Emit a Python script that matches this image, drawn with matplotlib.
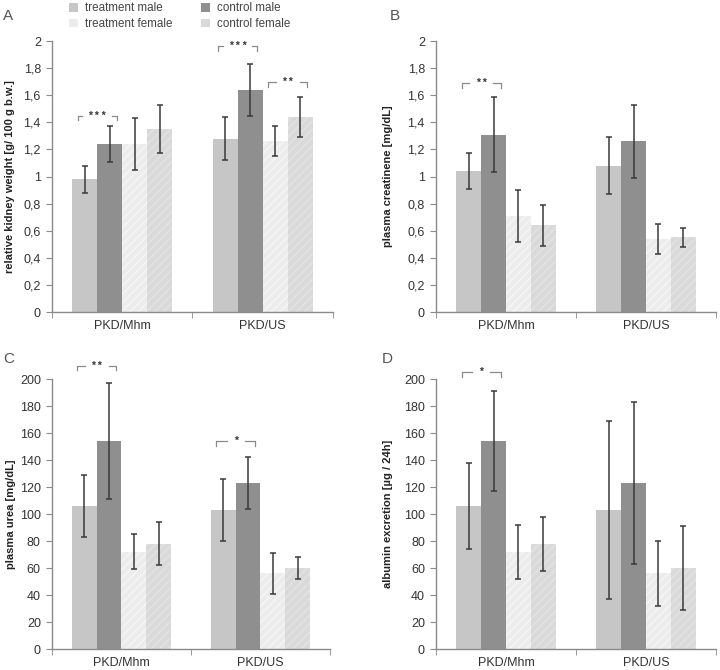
import matplotlib
matplotlib.use("Agg")
import matplotlib.pyplot as plt
from matplotlib.patches import Patch
import numpy as np

plt.rcParams['font.family'] = ['Liberation Sans', 'DejaVu Sans']
plt.rcParams['hatch.linewidth'] = 1.0

# ---------------- data ----------------
categories = ["PKD/Mhm", "PKD/US"]
groups = ["treatment male", "control male", "treatment female", "control female"]

# Panel A: relative kidney weight
kidney_mean = {"treatment male": [0.98, 1.28], "control male": [1.24, 1.64],
               "treatment female": [1.24, 1.26], "control female": [1.35, 1.44]}
kidney_err = {"treatment male": [0.10, 0.16], "control male": [0.13, 0.19],
              "treatment female": [0.19, 0.11], "control female": [0.18, 0.15]}

# Panel B: plasma creatinene
creat_mean = {"treatment male": [1.04, 1.08], "control male": [1.31, 1.26],
              "treatment female": [0.71, 0.54], "control female": [0.64, 0.55]}
creat_err = {"treatment male": [0.13, 0.21], "control male": [0.28, 0.27],
             "treatment female": [0.19, 0.11], "control female": [0.15, 0.07]}

# Panel C: plasma urea
urea_mean = {"treatment male": [106, 103], "control male": [154, 123],
             "treatment female": [72, 56], "control female": [78, 60]}
urea_err = {"treatment male": [23, 23], "control male": [43, 19],
            "treatment female": [13, 15], "control female": [16, 8]}

# Panel D: albumin excretion
alb_mean = {"treatment male": [106, 103], "control male": [154, 123],
            "treatment female": [72, 56], "control female": [78, 60]}
alb_err = {"treatment male": [32, 66], "control male": [37, 60],
           "treatment female": [20, 24], "control female": [20, 31]}

# significance brackets: (category index, group a, group b, height, label)
sig_A = [(0, 0, 1, 1.45, "***"), (1, 0, 1, 1.96, "***"), (1, 2, 3, 1.70, "**")]
sig_B = [(0, 0, 1, 1.69, "**")]
sig_C = [(0, 0, 1, 210, "**"), (1, 0, 1, 154, "*")]
sig_D = [(0, 0, 1, 205, "*")]

ticks_frac = [0, 0.2, 0.4, 0.6, 0.8, 1, 1.2, 1.4, 1.6, 1.8, 2]
ticks_frac_labels = ["0", "0,2", "0,4", "0,6", "0,8", "1", "1,2", "1,4", "1,6", "1,8", "2"]
ticks_int = [0, 20, 40, 60, 80, 100, 120, 140, 160, 180, 200]

# ---------------- style ----------------
colors = {"treatment male": "#c6c6c6", "control male": "#8f8f8f",
          "treatment female": "#ececec", "control female": "#d9d9d9"}
hatch_col = {"treatment male": None, "control male": None,
             "treatment female": "#f6f6f6", "control female": "#e3e3e3"}
width = 0.178
text_col = "#333333"
axis_col = "#8a8a8a"

fig = plt.figure(figsize=(7.2, 6.7), dpi=100)

def draw(rect, means, errs, yticks, ylabels, ylim, ylabel, letter, letter_pos, sig, label_x):
    ax = fig.add_axes(rect)
    x = np.arange(len(categories))
    for i, g in enumerate(groups):
        xs = x + (i - 1.5) * width
        hc = hatch_col[g]
        ax.bar(xs, means[g], width=width, color=colors[g],
               edgecolor=hc if hc else colors[g], linewidth=0,
               hatch="////" if hc else None, zorder=2)
        ax.errorbar(xs, means[g], yerr=errs[g], fmt="none", ecolor="#3a3a3a",
                    elinewidth=1.1, capsize=2.2, capthick=1.1, zorder=3)
    ax.set_xlim(-0.5, 1.5)
    ax.set_ylim(*ylim)
    ax.set_yticks(yticks)
    ax.set_yticklabels(ylabels)
    ax.set_xticks(x)
    ax.set_xticklabels(categories)
    ax.set_xticks([-0.5, 0.5, 1.5], minor=True)
    ax.tick_params(axis="x", which="major", length=0, pad=6, labelsize=9, labelcolor=text_col)
    ax.tick_params(axis="x", which="minor", length=4, color=axis_col, direction="out")
    ax.tick_params(axis="y", length=4, color=axis_col, labelsize=9, labelcolor=text_col, pad=4)
    for s in ["top", "right"]:
        ax.spines[s].set_visible(False)
    for s in ["left", "bottom"]:
        ax.spines[s].set_color(axis_col)
        ax.spines[s].set_linewidth(1.0)
    ax.set_ylabel(ylabel, fontsize=8, fontweight="bold", color="#222222")
    ax.yaxis.set_label_coords(label_x, 0.5)
    fig.text(letter_pos[0], letter_pos[1], letter, fontsize=11, color="#555555",
             ha="left", va="center")
    tick = 0.018 * ylim[1]
    for cat, a, b, h, lab in sig:
        x1 = cat + (a - 1.5) * width - 0.05
        x2 = cat + (b - 1.5) * width + 0.05
        xm = (x1 + x2) / 2
        gap = 0.045 + 0.02 * len(lab)
        kw = dict(color="#8a8a8a", lw=0.9, clip_on=False, zorder=4)
        ax.plot([x1, x1, xm - gap], [h - tick, h, h], **kw)
        ax.plot([xm + gap, x2, x2], [h, h, h - tick], **kw)
        ax.text(xm, h, " ".join(lab), ha="center", va="center", fontsize=7.5,
                color="#333333", fontweight="bold", clip_on=False)
    return ax

draw([0.0722, 0.5343, 0.3903, 0.4045], kidney_mean, kidney_err, ticks_frac, ticks_frac_labels,
     (0, 2), "relative kidney weight [g/ 100 g b.w.]", "A", (0.004, 0.976), sig_A, -0.13)
draw([0.6056, 0.5343, 0.3888, 0.4045], creat_mean, creat_err, ticks_frac, ticks_frac_labels,
     (0, 2), "plasma creatinene [mg/dL]", "B", (0.542, 0.976), sig_B, -0.155)
draw([0.0722, 0.0313, 0.3861, 0.4030], urea_mean, urea_err, ticks_int, [str(t) for t in ticks_int],
     (0, 200), "plasma urea [mg/dL]", "C", (0.004, 0.464), sig_C, -0.13)
draw([0.6056, 0.0313, 0.3888, 0.4030], alb_mean, alb_err, ticks_int, [str(t) for t in ticks_int],
     (0, 200), "albumin excretion [µg / 24h]", "D", (0.530, 0.464), sig_D, -0.155)

handles = [Patch(facecolor=colors[g], edgecolor="none") for g in
           ["treatment male", "treatment female", "control male", "control female"]]
labels = ["treatment male", "treatment female", "control male", "control female"]
fig.legend(handles, labels, loc="upper left", bbox_to_anchor=(0.081, 1.012), ncol=2,
           frameon=False, fontsize=8.4, handlelength=0.75, handleheight=0.75,
           handletextpad=0.6, columnspacing=2.5, labelspacing=0.3, labelcolor="#444444")

fig.savefig("out.png", dpi=100)
